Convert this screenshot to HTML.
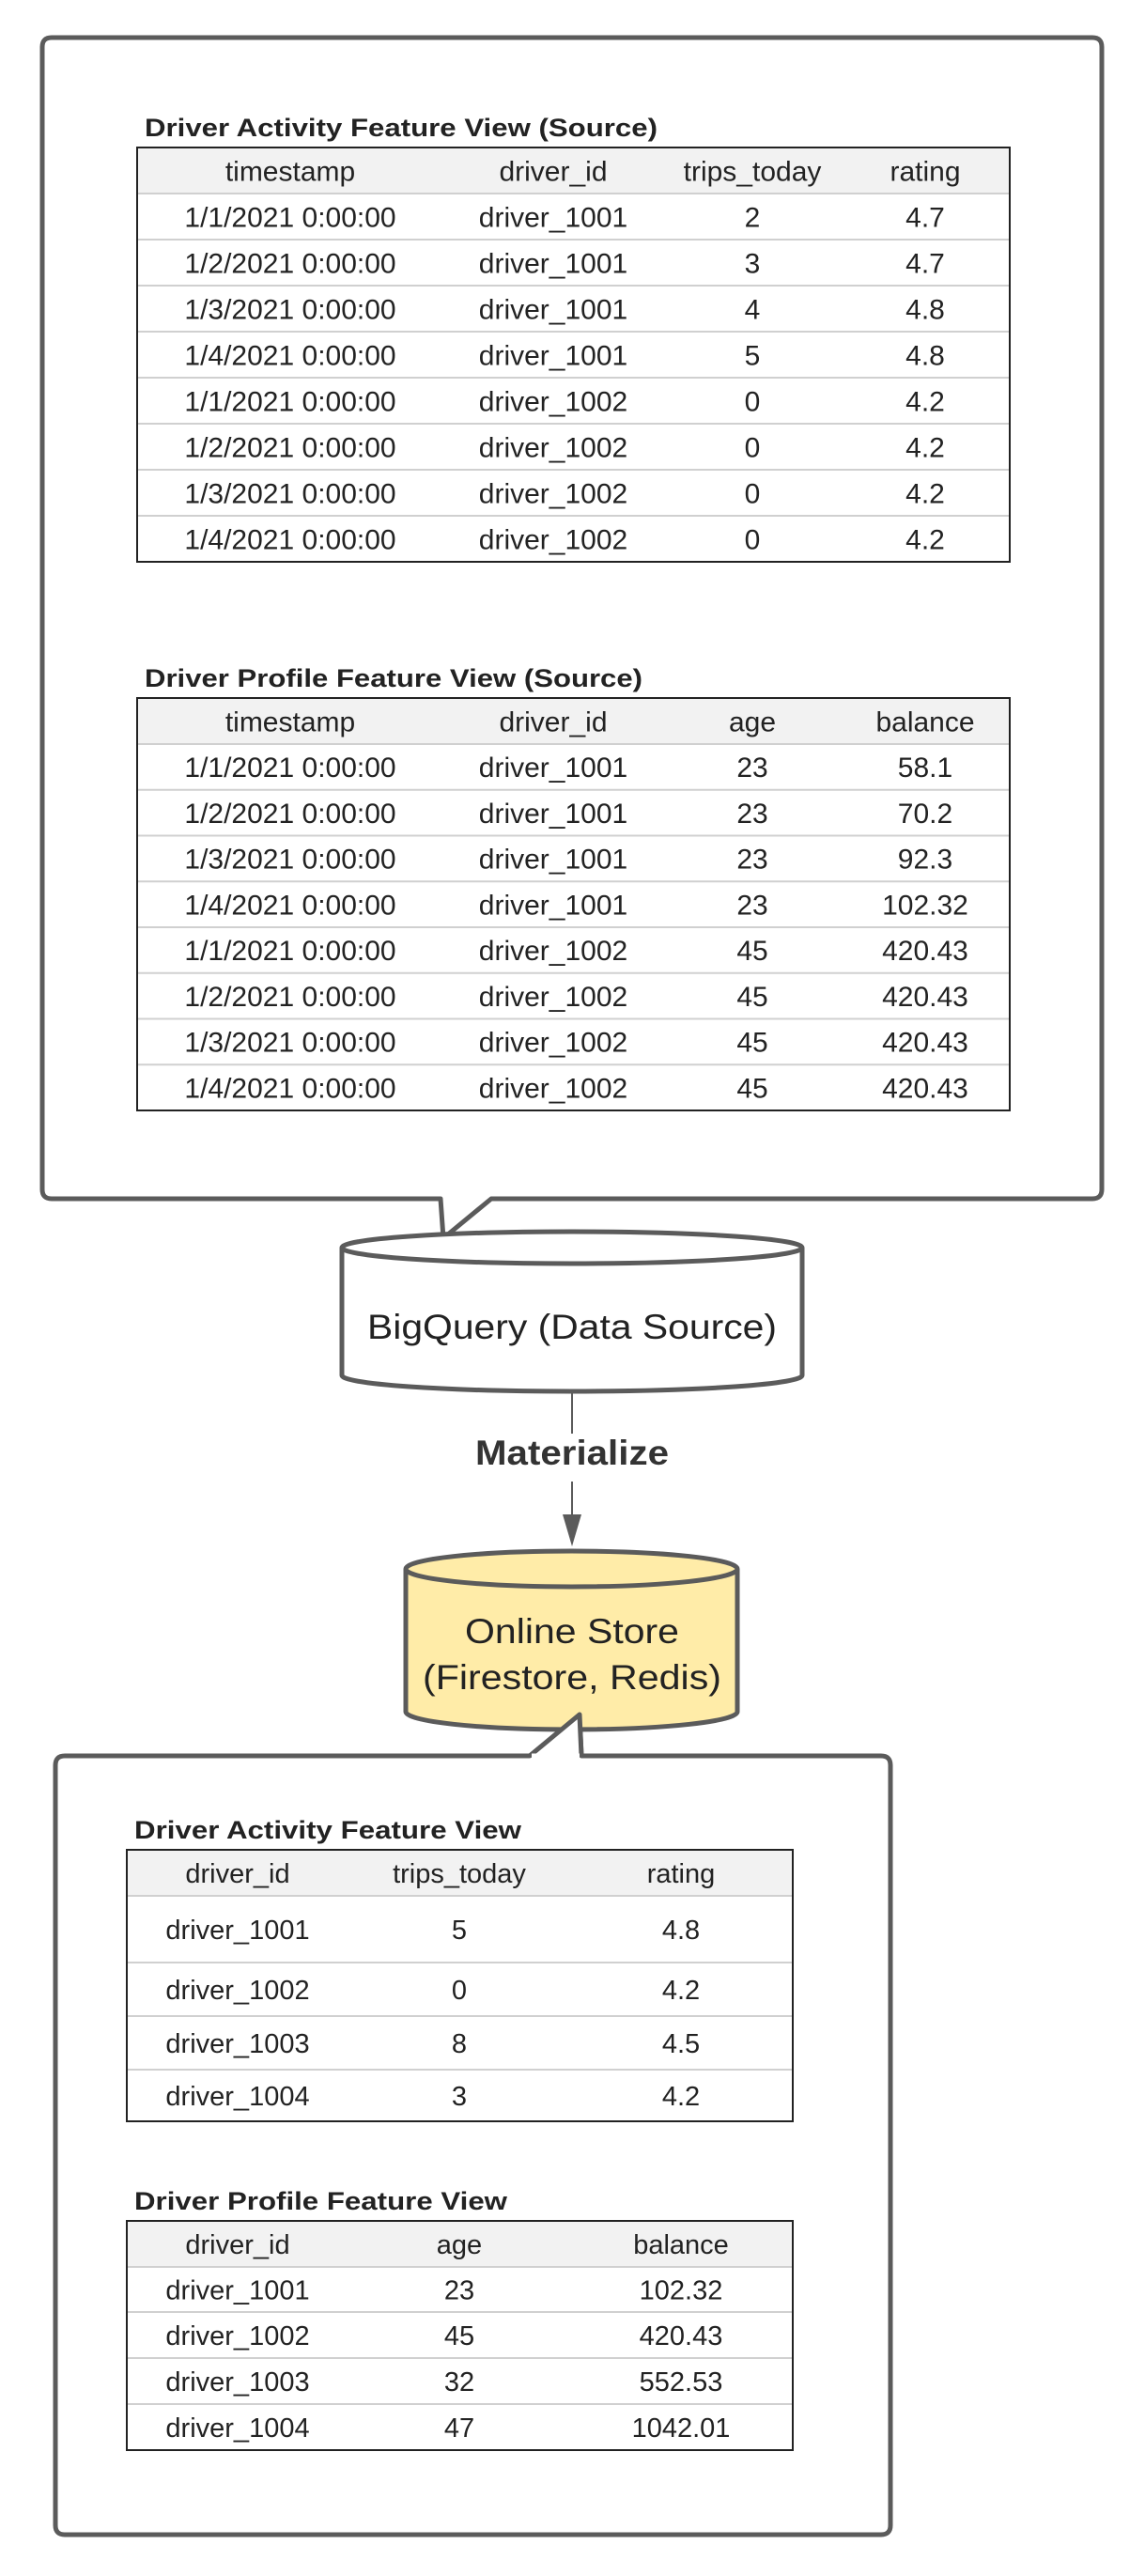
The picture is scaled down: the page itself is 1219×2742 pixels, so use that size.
<!DOCTYPE html>
<html>
<head>
<meta charset="utf-8">
<style>
html,body{margin:0;padding:0;background:#fff;}
svg{display:block;}
text{font-family:"Liberation Sans",Arial,sans-serif;fill:#222;}
</style>
</head>
<body>
<svg id="root" width="1219" height="2742" viewBox="0 0 1219 2742" xmlns="http://www.w3.org/2000/svg">
  <!-- top callout box -->
  <path d="M55,40 H1163 Q1173,40 1173,50 V1266 Q1173,1276 1163,1276 H523 L472,1318 L469,1276 H55 Q45,1276 45,1266 V50 Q45,40 55,40 Z" fill="#fff" stroke="#5b5b5b" stroke-width="5" stroke-linejoin="round"/>
  <!-- bottom callout box -->
  <path d="M69,1869 H564 L617,1825 L619,1869 H938 Q948,1869 948,1879 V2688 Q948,2698 938,2698 H69 Q59,2698 59,2688 V1879 Q59,1869 69,1869 Z" fill="#fff" stroke="#5b5b5b" stroke-width="5" stroke-linejoin="round"/>

  <!-- BigQuery cylinder -->
  <g>
    <path d="M364,1328 V1464 A245,17 0 0 0 854,1464 V1328" fill="#fff" stroke="#5b5b5b" stroke-width="5"/>
    <ellipse cx="609" cy="1328" rx="245" ry="17" fill="#fff" stroke="#5b5b5b" stroke-width="5"/>
    <text x="609" y="1425" font-size="37" text-anchor="middle" textLength="436" lengthAdjust="spacingAndGlyphs">BigQuery (Data Source)</text>
  </g>

  <!-- arrow -->
  <line x1="609" y1="1483" x2="609" y2="1526" stroke="#5b5b5b" stroke-width="2"/>
  <line x1="609" y1="1577" x2="609" y2="1625" stroke="#5b5b5b" stroke-width="2"/>
  <polygon points="599,1612 619,1612 609,1646" fill="#5b5b5b"/>
  <text x="609" y="1559" font-size="37" font-weight="bold" text-anchor="middle" textLength="206" lengthAdjust="spacingAndGlyphs" style="fill:#333">Materialize</text>

  <!-- Online store cylinder -->
  <g>
    <path d="M432,1670 V1822 A176.5,19 0 0 0 785,1822 V1670" fill="#ffeca8" stroke="#5b5b5b" stroke-width="5"/>
    <ellipse cx="608.5" cy="1670" rx="176.5" ry="19" fill="#ffeca8" stroke="#5b5b5b" stroke-width="5"/>
    <text x="609" y="1749" font-size="37" text-anchor="middle" textLength="228" lengthAdjust="spacingAndGlyphs">Online Store</text>
    <text x="609" y="1798" font-size="37" text-anchor="middle" textLength="318" lengthAdjust="spacingAndGlyphs">(Firestore, Redis)</text>
  </g>
  <!-- redraw tail over cylinder bottom -->
  <path d="M564,1869 L617,1825 L619,1869" fill="#fff" stroke="#5b5b5b" stroke-width="5" stroke-linejoin="round"/>
  <line x1="566" y1="1869" x2="617" y2="1869" stroke="#fff" stroke-width="5"/>

  <g id="tables"></g>
</svg>
<script>
// Driver Activity (Source)
const actCols = ["timestamp","driver_id","trips_today","rating"];
const actTimestamps = ["1/1/2021 0:00:00","1/2/2021 0:00:00","1/3/2021 0:00:00","1/4/2021 0:00:00","1/1/2021 0:00:00","1/2/2021 0:00:00","1/3/2021 0:00:00","1/4/2021 0:00:00"];
const actDrivers = ["driver_1001","driver_1001","driver_1001","driver_1001","driver_1002","driver_1002","driver_1002","driver_1002"];
const actTrips = ["2","3","4","5","0","0","0","0"];
const actRatings = ["4.7","4.7","4.8","4.8","4.2","4.2","4.2","4.2"];
// Driver Profile (Source)
const profCols = ["timestamp","driver_id","age","balance"];
const profTimestamps = actTimestamps;
const profDrivers = actDrivers;
const profAges = ["23","23","23","23","45","45","45","45"];
const profBalances = ["58.1","70.2","92.3","102.32","420.43","420.43","420.43","420.43"];
// Online Activity
const onActCols = ["driver_id","trips_today","rating"];
const onActDrivers = ["driver_1001","driver_1002","driver_1003","driver_1004"];
const onActTrips = ["5","0","8","3"];
const onActRatings = ["4.8","4.2","4.5","4.2"];
// Online Profile
const onProfCols = ["driver_id","age","balance"];
const onProfDrivers = ["driver_1001","driver_1002","driver_1003","driver_1004"];
const onProfAges = ["23","45","32","47"];
const onProfBalances = ["102.32","420.43","552.53","1042.01"];

const NS = "http://www.w3.org/2000/svg";
const root = document.getElementById("tables");
function mk(tag, attrs, parent){
  const e = document.createElementNS(NS, tag);
  for (const k in attrs) e.setAttribute(k, attrs[k]);
  parent.appendChild(e);
  return e;
}
function drawTable(name, title, titleW, x0, x1, top, headerBottom, rowBottoms, colX, cols, columns, fs){
  const g = mk("g", {}, root);
  
  
  const t = mk("text", {x: x0 + 8, y: top - 12, "font-size": 27, "font-weight": "bold", textLength: titleW, lengthAdjust: "spacingAndGlyphs"}, g);
  t.textContent = title;
  
  
  mk("rect", {x: x0, y: top, width: x1 - x0, height: headerBottom - top, fill: "#f2f2f2"}, g);
  cols.forEach((c, i) => {
    const h = mk("text", {x: colX[i], y: (top + headerBottom) / 2 + fs * 0.36, "font-size": fs, "text-anchor": "middle"}, g);
    h.textContent = c;
    
    
  });
  let prev = headerBottom;
  rowBottoms.forEach((rb, r) => {
    mk("line", {x1: x0, x2: x1, y1: prev, y2: prev, stroke: "#d0d0d0", "stroke-width": 2}, g);
    columns.forEach((arr, i) => {
      const c = mk("text", {x: colX[i], y: (prev + rb) / 2 + fs * 0.36, "font-size": fs, "text-anchor": "middle"}, g);
      c.textContent = arr[r];
      
      
    });
    prev = rb;
  });
  mk("rect", {x: x0, y: top, width: x1 - x0, height: prev - top, fill: "none", stroke: "#222", "stroke-width": 2}, g);
}
function evenRows(start, h, n){ const a=[]; for(let i=1;i<=n;i++) a.push(start+h*i); return a; }

drawTable("driver-activity-source-table", "Driver Activity Feature View (Source)", 546, 146, 1075, 157, 206,
  evenRows(206, 49, actTimestamps.length), [309, 589, 801, 985], actCols,
  [actTimestamps, actDrivers, actTrips, actRatings], 30);
drawTable("driver-profile-source-table", "Driver Profile Feature View (Source)", 530, 146, 1075, 743, 792,
  evenRows(792, 48.75, profTimestamps.length), [309, 589, 801, 985], profCols,
  [profTimestamps, profDrivers, profAges, profBalances], 30);
drawTable("driver-activity-online-table", "Driver Activity Feature View", 412, 135, 844, 1969, 2018,
  [2089, 2146, 2203, 2258], [253, 489, 725], onActCols,
  [onActDrivers, onActTrips, onActRatings], 29);
drawTable("driver-profile-online-table", "Driver Profile Feature View", 397, 135, 844, 2364, 2413,
  [2461, 2510, 2559, 2608], [253, 489, 725], onProfCols,
  [onProfDrivers, onProfAges, onProfBalances], 29);
</script>
</body>
</html>
